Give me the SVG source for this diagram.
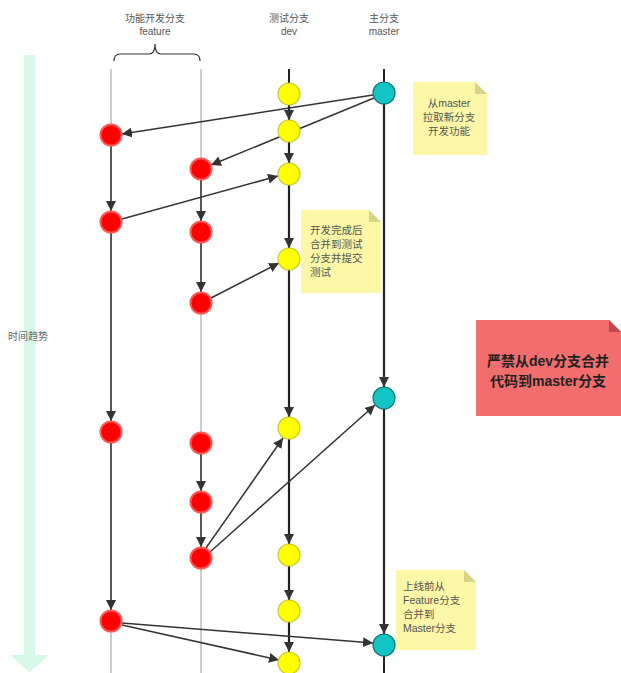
<svg xmlns="http://www.w3.org/2000/svg" width="621" height="673" viewBox="0 0 621 673">
<style>
text{font-family:"Liberation Sans","Noto Sans CJK SC",sans-serif;fill:#555;font-size:10px}
.hd{text-anchor:middle;font-size:10px;fill:#555}
.lane{stroke:#bbb;stroke-width:1.5;fill:none}
.blk{stroke:#222;stroke-width:2;fill:none}
.c{stroke:#333;stroke-width:1.5;fill:none;marker-end:url(#ah)}
.cd{stroke:#222;stroke-width:2.2;fill:none;marker-end:url(#ah)}
.red{fill:#f00;stroke:#f55;stroke-width:2}
.yel{fill:#ff0;stroke:#cc3;stroke-width:1.2}
.cya{fill:#13c4c4;stroke:#117777;stroke-width:1.2}
.note{fill:#fbf7a6}
.nt{font-size:10.5px;fill:#555}
</style>
<defs>
<marker id="ah" viewBox="0 0 10 10" refX="10" refY="5" markerWidth="10" markerHeight="10" markerUnits="userSpaceOnUse" orient="auto"><path d="M0,0 L10,5 L0,10 z" fill="#333"/></marker>
</defs>

<g id="time-axis">
<rect x="24" y="55" width="11" height="600" fill="#d5f8e7"/>
<path d="M10,655 L49,655 L29.5,672 z" fill="#d5f8e7"/>
<text x="28" y="340" text-anchor="middle" style="font-size:10px;fill:#666">时间趋势</text>
</g>

<g id="headers">
<text class="hd" x="155" y="22">功能开发分支</text>
<text class="hd" x="155" y="35">feature</text>
<text class="hd" x="289" y="22">测试分支</text>
<text class="hd" x="289" y="35">dev</text>
<text class="hd" x="384" y="22">主分支</text>
<text class="hd" x="384" y="35">master</text>
<path d="M114,61 Q114,54 120,54 L149,54 Q155,54 155,44 Q155,54 161,54 L194,54 Q200,54 200,61" fill="none" stroke="#333" stroke-width="1.2"/>
</g>

<g id="lanes">
<line class="lane" x1="111" y1="69" x2="111" y2="673"/>
<line class="lane" x1="201" y1="69" x2="201" y2="673"/>
<line class="blk" x1="289" y1="69" x2="289" y2="673"/>
<line class="blk" x1="384" y1="69" x2="384" y2="673"/>
</g>

<g id="connectors">
<path class="cd" d="M289,105 L289,120"/>
<path class="cd" d="M289,142 L289,163"/>
<path class="cd" d="M289,185 L289,248"/>
<path class="cd" d="M289,270 L289,417"/>
<path class="cd" d="M289,439 L289,544"/>
<path class="cd" d="M289,566 L289,600"/>
<path class="cd" d="M289,622 L289,652"/>
<path class="cd" d="M384,104 L384,387"/>
<path class="cd" d="M384,409 L384,634"/>
<path class="c" d="M111,146 L111,211"/>
<path class="c" d="M111,233 L111,421"/>
<path class="c" d="M111,443 L111,610"/>
<path class="c" d="M201,180 L201,221"/>
<path class="c" d="M201,243 L201,292"/>
<path class="c" d="M201,454 L201,491"/>
<path class="c" d="M201,513 L201,547"/>
<path class="c" d="M373,95 L122,134"/>
<path class="c" d="M374,98 L211,165"/>
<path class="c" d="M122,219 L278,176"/>
<path class="c" d="M211,298 L279,263"/>
<path class="c" d="M206,548 L283,438"/>
<path class="c" d="M210,552 L375,405"/>
<path class="c" d="M122,623 L373,643"/>
<path class="c" d="M122,625 L279,660"/>
</g>

<g id="dev-nodes">
<circle class="yel" cx="289" cy="94" r="11"/>
<circle class="yel" cx="289" cy="131" r="11"/>
<circle class="yel" cx="289" cy="174" r="11"/>
<circle class="yel" cx="289" cy="259" r="11"/>
<circle class="yel" cx="289" cy="428" r="11"/>
<circle class="yel" cx="289" cy="555" r="11"/>
<circle class="yel" cx="289" cy="611" r="11"/>
<circle class="yel" cx="289" cy="663" r="11"/>
</g>
<g id="master-nodes">
<circle class="cya" cx="384" cy="93" r="11"/>
<circle class="cya" cx="384" cy="398" r="11"/>
<circle class="cya" cx="384" cy="645" r="11"/>
</g>
<g id="feature-nodes">
<circle class="red" cx="111" cy="135" r="10.5"/>
<circle class="red" cx="111" cy="222" r="10.5"/>
<circle class="red" cx="111" cy="432" r="10.5"/>
<circle class="red" cx="111" cy="621" r="10.5"/>
<circle class="red" cx="201" cy="169" r="10.5"/>
<circle class="red" cx="201" cy="232" r="10.5"/>
<circle class="red" cx="201" cy="303" r="10.5"/>
<circle class="red" cx="201" cy="443" r="10.5"/>
<circle class="red" cx="201" cy="502" r="10.5"/>
<circle class="red" cx="201" cy="558" r="10.5"/>
</g>

<g id="note-pull">
<path class="note" d="M413,82 L475,82 L487,94 L487,155 L413,155 z"/>
<path d="M475,82 L487,94 L475,94 z" fill="#d8d38a"/>
<text class="nt" x="449" y="107" text-anchor="middle">从master</text>
<text class="nt" x="449" y="121" text-anchor="middle">拉取新分支</text>
<text class="nt" x="449" y="135" text-anchor="middle">开发功能</text>
</g>

<g id="note-merge-dev">
<path class="note" d="M301,210 L369,210 L381,222 L381,293 L301,293 z"/>
<path d="M369,210 L381,222 L369,222 z" fill="#d8d38a"/>
<text class="nt" x="310" y="234">开发完成后</text>
<text class="nt" x="310" y="248">合并到测试</text>
<text class="nt" x="310" y="262">分支并提交</text>
<text class="nt" x="310" y="276">测试</text>
</g>

<g id="note-forbid">
<path d="M476,320 L609,320 L621,332 L621,416 L476,416 z" fill="#f26d6d"/>
<path d="M609,320 L621,332 L609,332 z" fill="#c04848"/>
<text x="548" y="366" text-anchor="middle" style="font-size:14px;font-weight:bold;fill:#222">严禁从dev分支合并</text>
<text x="548" y="386" text-anchor="middle" style="font-size:14px;font-weight:bold;fill:#222">代码到master分支</text>
</g>

<g id="note-release">
<path class="note" d="M396,570 L464,570 L476,582 L476,650 L396,650 z"/>
<path d="M464,570 L476,582 L464,582 z" fill="#d8d38a"/>
<text class="nt" x="403" y="590">上线前从</text>
<text class="nt" x="403" y="604">Feature分支</text>
<text class="nt" x="403" y="618">合并到</text>
<text class="nt" x="403" y="632">Master分支</text>
</g>
</svg>
